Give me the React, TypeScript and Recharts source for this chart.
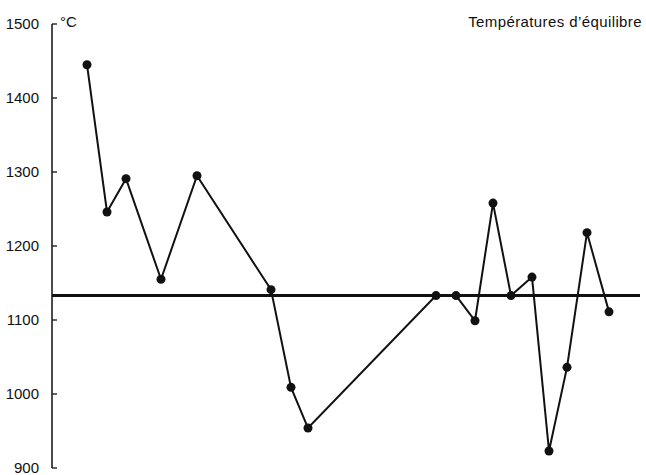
import { LineChart, Line, XAxis, YAxis, ReferenceLine } from "recharts";

// positions of the samples along the horizontal (arbitrary units)
const POSITIONS = [35, 55, 74, 109, 145, 219, 239, 256, 384, 404, 423, 441, 459, 480, 497, 515, 535, 557];
// equilibrium temperatures, °C
const TEMPS = [1445, 1246, 1291, 1155, 1295, 1141, 1009, 954, 1133, 1133, 1099, 1258, 1133, 1158, 923, 1036, 1218, 1111];
const Y_TICKS = [900, 1000, 1100, 1200, 1300, 1400, 1500];
const MEAN_TEMP = 1133;

const data = POSITIONS.map((x, i) => ({ x, t: TEMPS[i] }));

const font = "'Liberation Sans', Arial, Helvetica, sans-serif";
const GAP = 13;

// tick label on the left, small tick pointing into the plot
function InwardTick(props: any) {
  const { x, y, payload } = props;
  const ax = x + GAP;
  return (
    <g>
      <line x1={ax} y1={y} x2={ax + 5} y2={y} stroke="#111" strokeWidth={1.3} />
      <text x={x} y={y} dy={5} textAnchor="end" fill="#111" fontSize={15} fontFamily={font}>
        {payload.value}
      </text>
    </g>
  );
}

export default function App() {
  return (
    <div style={{ position: "absolute", left: 0, top: 0, width: 646, height: 475, background: "#fff", fontFamily: font }}>
      <LineChart width={646} height={475} data={data} margin={{ top: 24, right: 6, bottom: 7, left: 0 }}>
        <XAxis type="number" dataKey="x" domain={[0, 588]} hide />
        <YAxis
          type="number"
          domain={[900, 1500]}
          ticks={Y_TICKS}
          interval={0}
          width={52}
          tickSize={0}
          tickMargin={GAP}
          axisLine={{ stroke: "#111", strokeWidth: 1.5 }}
          tickLine={false}
          tick={<InwardTick />}
        />
        <ReferenceLine y={MEAN_TEMP} stroke="#111" strokeWidth={3} />
        <Line
          type="linear"
          dataKey="t"
          stroke="#111"
          strokeWidth={2}
          dot={{ r: 4.5, fill: "#111", stroke: "#111", strokeWidth: 0 }}
          isAnimationActive={false}
        />
      </LineChart>
      <div style={{ position: "absolute", left: 60, top: 13, fontSize: 15, color: "#111" }}>°C</div>
      <div style={{ position: "absolute", right: 4, top: 13, fontSize: 15, color: "#111", letterSpacing: 0.4 }}>
        Températures d’équilibre
      </div>
    </div>
  );
}
